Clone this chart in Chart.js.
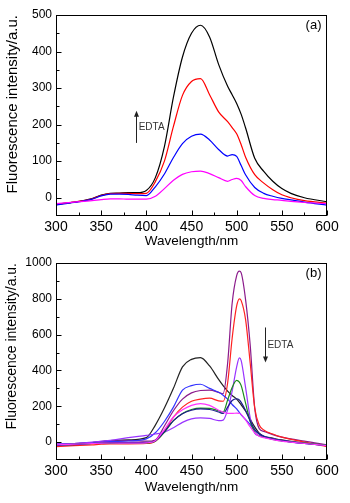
<!DOCTYPE html>
<html>
<head>
<meta charset="utf-8">
<script src="https://cdn.jsdelivr.net/npm/chart.js@4.4.0/dist/chart.umd.min.js"></script>
<style>
html, body { margin: 0; padding: 0; background: #fff; }
#wrap { position: relative; width: 350px; height: 503px; }
canvas { position: absolute; left: 0; }
</style>
</head>
<body>
<div id="wrap">
<canvas id="chartA" width="350" height="250" style="top:0"></canvas>
<canvas id="chartB" width="350" height="253" style="top:250px"></canvas>
</div>
<script>
// panel (a)
const wavelengthA = [300,320,340,350,360,370,380,390,400,410,420,430,440,450,460,470,480,490,495,500,505,510,520,530,540,550,560,575,600];
const blackA   = [-18,-12,-2,7,12,13,14,14,20,55,140,275,385,450,472,440,365,305,282,258,228,190,108,72,45,25,12,0,-11];
const redA     = [-18,-12,-3,6,11,12,12,11,12,44,100,195,280,318,326,282,235,208,192,175,145,110,63,40,22,8,0,-8,-15];
const blueA    = [-20,-13,-4,5,10,10,9,7,6,30,65,110,148,168,174,158,132,114,118,113,88,62,28,12,4,-2,-6,-12,-20];
const magentaA = [-16,-12,-8,-5,-3,-3,-4,-4,-4,4,25,48,64,71,73,66,55,45,50,53,47,30,6,-2,-5,-7,-10,-13,-16];

// panel (b)
const wavelengthB = [300,320,340,350,360,380,400,410,420,430,440,450,460,470,480,485,490,495,500,503,505,510,515,520,525,530,540,550,575,600];
const blackB   = [-15,-10,-3,3,8,12,25,95,190,300,420,462,472,425,350,315,285,260,240,222,208,172,128,85,50,33,22,12,-5,-18];
const blueB    = [-12,-8,-4,0,3,6,18,52,115,195,290,315,323,300,278,262,240,210,185,165,152,125,97,67,45,32,18,8,-8,-18];
const purpleB  = [-12,-8,-3,2,5,8,5,12,90,175,240,275,288,290,278,270,440,775,930,955,945,790,540,190,75,60,42,28,5,-15];
const redB     = [-25,-20,-15,-12,-10,-10,-8,5,60,140,195,228,240,245,230,228,330,580,760,800,790,680,440,190,95,68,45,28,0,-25];
const magentaB = [-15,-12,-8,-6,-5,-6,-4,8,70,140,180,205,215,205,178,168,160,160,162,160,155,122,85,52,33,25,14,5,-8,-20];
const greenB   = [-15,-12,-8,-6,-6,-8,-5,5,55,120,160,182,190,188,175,168,235,305,345,335,315,215,115,55,35,28,15,6,-6,-18];
const navyB    = [-18,-14,-8,-5,-3,-3,-2,8,58,120,158,178,185,182,168,160,195,232,242,235,222,175,118,70,45,32,18,8,-8,-20];
const violetB  = [-10,-8,0,5,10,25,38,45,55,80,110,130,135,132,120,123,180,285,420,470,455,300,135,50,35,28,18,8,-5,-18];

// ticks
const xTicks = [300,350,400,450,500,550,600];
const yTicksA = [0,100,200,300,400,500];
const yTicksB = [0,200,400,600,800,1000];

Chart.defaults.font.family = "'Liberation Sans', Arial, sans-serif";
Chart.defaults.color = '#000';

function pts(xs, ys) {
    return ys.map((v, i) => ({x: xs[i], y: v}));
}

function line(xs, ys, color) {
    return {
        data: pts(xs, ys),
        borderColor: color,
        borderWidth: 1.2,
        pointRadius: 0,
        fill: false,
        cubicInterpolationMode: 'monotone'
    };
}

function mids(arr) {
    var out = [];
    for (let i = 0; i < arr.length - 1; i++) out.push((arr[i] + arr[i + 1]) / 2);
    return out;
}

// box, inward ticks, panel letter and the EDTA arrow
const frame = {
    id: 'frame',
    afterDatasetsDraw(chart, args, opts) {
        const {ctx, chartArea: a, scales: {x, y}} = chart;
        const L = Math.round(a.left) + 0.5, R = Math.round(a.right) - 0.5;
        const T = Math.round(a.top) + 0.5, B = Math.round(a.bottom) - 0.5;
        ctx.save();
        ctx.strokeStyle = '#000';
        ctx.lineWidth = 1;
        ctx.strokeRect(L, T, R - L, B - T);
        ctx.beginPath();
        opts.xMajor.forEach(v => { let p = Math.round(x.getPixelForValue(v)) + 0.5; ctx.moveTo(p, B); ctx.lineTo(p, B - 5); });
        mids(opts.xMajor).forEach(v => { let p = Math.round(x.getPixelForValue(v)) + 0.5; ctx.moveTo(p, B); ctx.lineTo(p, B - 3); });
        opts.yMajor.forEach(v => { let p = Math.round(y.getPixelForValue(v)) + 0.5; ctx.moveTo(L, p); ctx.lineTo(L + 5, p); });
        mids(opts.yMajor).forEach(v => { let p = Math.round(y.getPixelForValue(v)) + 0.5; ctx.moveTo(L, p); ctx.lineTo(L + 3, p); });
        ctx.stroke();

        // panel letter
        ctx.fillStyle = '#000';
        ctx.font = "13px 'Liberation Sans', Arial, sans-serif";
        ctx.textAlign = 'right';
        ctx.textBaseline = 'middle';
        ctx.fillText(opts.letter, R - 5, T + 10);

        // arrow
        const ax = Math.round(x.getPixelForValue(opts.arrow.x)) + 0.5;
        const y0 = y.getPixelForValue(opts.arrow.from);
        const y1 = y.getPixelForValue(opts.arrow.to);
        const dir = y1 < y0 ? 1 : -1;
        ctx.strokeStyle = '#222';
        ctx.beginPath();
        ctx.moveTo(ax, y0);
        ctx.lineTo(ax, y1 + dir * 3);
        ctx.stroke();
        ctx.fillStyle = '#222';
        ctx.beginPath();
        ctx.moveTo(ax, y1);
        ctx.lineTo(ax - 2.5, y1 + dir * 6);
        ctx.lineTo(ax + 2.5, y1 + dir * 6);
        ctx.closePath();
        ctx.fill();

        ctx.font = "10px 'Liberation Sans', Arial, sans-serif";
        ctx.textAlign = 'left';
        ctx.fillStyle = '#333';
        ctx.fillText('EDTA', x.getPixelForValue(opts.text.x), y.getPixelForValue(opts.text.y));
        ctx.restore();
    }
};

function makeOptions(cfg) {
    return {
        responsive: false,
        animation: false,
        devicePixelRatio: 1,
        layout: {padding: {top: cfg.padTop, right: 23, left: 0, bottom: 0}},
        plugins: {
            legend: {display: false},
            tooltip: {enabled: false},
            frame: cfg.frame
        },
        scales: {
            x: {
                type: 'linear',
                min: 300,
                max: 600,
                afterFit: s => { s.height = cfg.xHeight; },
                afterBuildTicks: s => { s.ticks = xTicks.map(v => ({value: v})); },
                grid: {display: false, drawTicks: false},
                border: {display: false},
                ticks: {font: {size: 14}, padding: 3, maxRotation: 0, color: '#000', callback: v => String(v)},
                title: {display: true, text: 'Wavelength/nm', font: {size: 13.5}, padding: {top: 0, bottom: cfg.xTitlePad}, color: '#000'}
            },
            y: {
                min: cfg.yMin,
                max: cfg.yMax,
                afterFit: s => { s.width = 56; },
                afterBuildTicks: s => { s.ticks = cfg.yTicks.map(v => ({value: v})); },
                grid: {display: false, drawTicks: false},
                border: {display: false},
                ticks: {font: {size: 12}, padding: 4, color: '#000', callback: v => String(v)},
                title: {display: true, text: 'Fluorescence intensity/a.u.', align: 'end', font: {size: cfg.yTitleSize}, padding: {top: 4, bottom: 0}, color: '#000'}
            }
        }
    };
}

new Chart(document.getElementById('chartA').getContext('2d'), {
    type: 'line',
    data: {
        datasets: [
            line(wavelengthA, magentaA, '#ff00ff'),
            line(wavelengthA, blueA, '#0000ff'),
            line(wavelengthA, redA, '#ff0000'),
            line(wavelengthA, blackA, '#000000')
        ]
    },
    options: makeOptions({
        padTop: 15, xHeight: 34, xTitlePad: 1, yMin: -50, yMax: 500, yTicks: yTicksA, yTitleSize: 15,
        frame: {xMajor: xTicks, yMajor: yTicksA, letter: '(a)',
                arrow: {x: 388.5, from: 150, to: 238}, text: {x: 391.5, y: 192}}
    }),
    plugins: [frame]
});

new Chart(document.getElementById('chartB').getContext('2d'), {
    type: 'line',
    data: {
        datasets: [
            line(wavelengthB, magentaB, '#ff33ff'),
            line(wavelengthB, navyB, '#1c1c8c'),
            line(wavelengthB, greenB, '#1a8c1a'),
            line(wavelengthB, violetB, '#9933ff'),
            line(wavelengthB, blueB, '#3333ff'),
            line(wavelengthB, redB, '#ff2020'),
            line(wavelengthB, purpleB, '#8b1a8b'),
            line(wavelengthB, blackB, '#222222')
        ]
    },
    options: makeOptions({
        padTop: 13, xHeight: 43, xTitlePad: 8, yMin: -100, yMax: 1000, yTicks: yTicksB, yTitleSize: 14,
        frame: {xMajor: xTicks, yMajor: yTicksB, letter: '(b)',
                arrow: {x: 531.5, from: 640, to: 445}, text: {x: 534, y: 542}}
    }),
    plugins: [frame]
});
</script>
</body>
</html>
